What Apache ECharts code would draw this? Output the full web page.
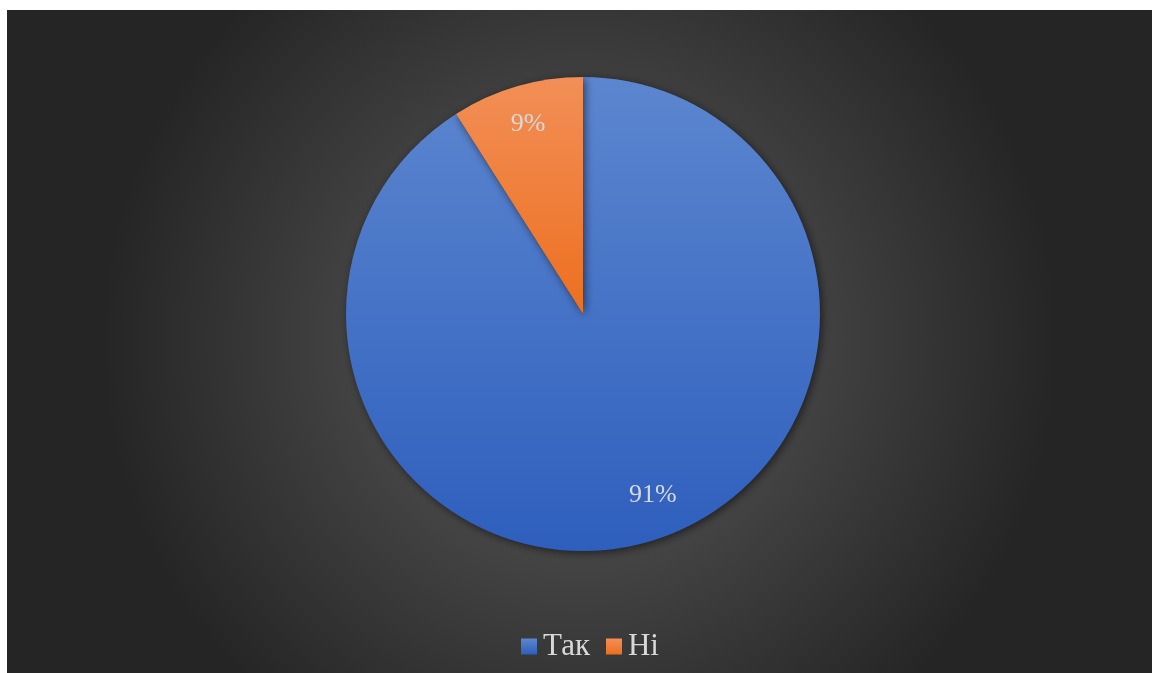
<!DOCTYPE html>
<html>
<head>
<meta charset="utf-8">
<script src="https://cdn.jsdelivr.net/npm/echarts@6/dist/echarts.min.js"></script>
<style>
html,body{margin:0;padding:0;background:#fff;width:1152px;height:673px;overflow:hidden;}
#chart{position:absolute;left:7px;top:10px;width:1145px;height:663px;}
</style>
</head>
<body>
<div id="chart"></div>
<script>
const categories = ['Так', 'Ні'];
const values = [91, 9];
const labels = ['91%', '9%'];

const colors = [
  {type:'linear', x:0, y:0, x2:0, y2:1, colorStops:[{offset:0,color:'#5c86cf'},{offset:1,color:'#2e5fbd'}]},
  {type:'linear', x:0, y:0, x2:0, y2:1, colorStops:[{offset:0,color:'#f28f57'},{offset:1,color:'#ed6f1f'}]}
];
const legendColors = [
  {type:'linear', x:0, y:0, x2:0, y2:1, colorStops:[{offset:0,color:'#5a84cd'},{offset:1,color:'#3464c0'}]},
  {type:'linear', x:0, y:0, x2:0, y2:1, colorStops:[{offset:0,color:'#f28d55'},{offset:1,color:'#ee7224'}]}
];
const labelOffsets = [[15, -8], [0, -1]];

const chart = echarts.init(document.getElementById('chart'));
const center = [576, 304];
chart.setOption({
  backgroundColor: {type:'radial', x:0.5, y:0.5, r:0.72, colorStops:[{offset:0,color:'#555555'},{offset:0.35,color:'#4a4a4a'},{offset:1,color:'#252525'}]},
  animation: false,
  color: legendColors,
  legend: {
    data: categories,
    top: 621,
    left: 514,
    itemWidth: 16,
    itemHeight: 16,
    itemGap: 16,
    icon: 'rect',
    padding: 0,
    textStyle: {color:'#d9d9d9', fontSize:31, fontFamily:'Liberation Serif', padding:[0,0,0,1]}
  },
  series: [
    {
      type: 'pie',
      center: center,
      radius: [0, 237],
      startAngle: 90,
      clockwise: true,
      label: {show:false},
      labelLine: {show:false},
      itemStyle: {borderWidth:0, shadowColor:'rgba(0,0,0,0.55)', shadowBlur:8, shadowOffsetX:2, shadowOffsetY:2},
      emphasis: {disabled:true},
      data: categories.map((c,i)=>({name:c, value:values[i], itemStyle:{color:colors[i]}}))
    },
    {
      type: 'pie',
      center: center,
      radius: [150, 237],
      startAngle: 90,
      clockwise: true,
      silent: true,
      legendHoverLink: false,
      itemStyle: {color:'rgba(0,0,0,0)'},
      emphasis: {disabled:true},
      label: {show:true, position:'inside', color:'#d9d9d9', fontSize:26, fontFamily:'Liberation Serif',
        formatter: p => labels[p.dataIndex]},
      labelLine: {show:false},
      data: categories.map((c,i)=>({name:c+' ', value:values[i], label:{offset:labelOffsets[i]}}))
    }
  ]
});
</script>
</body>
</html>
